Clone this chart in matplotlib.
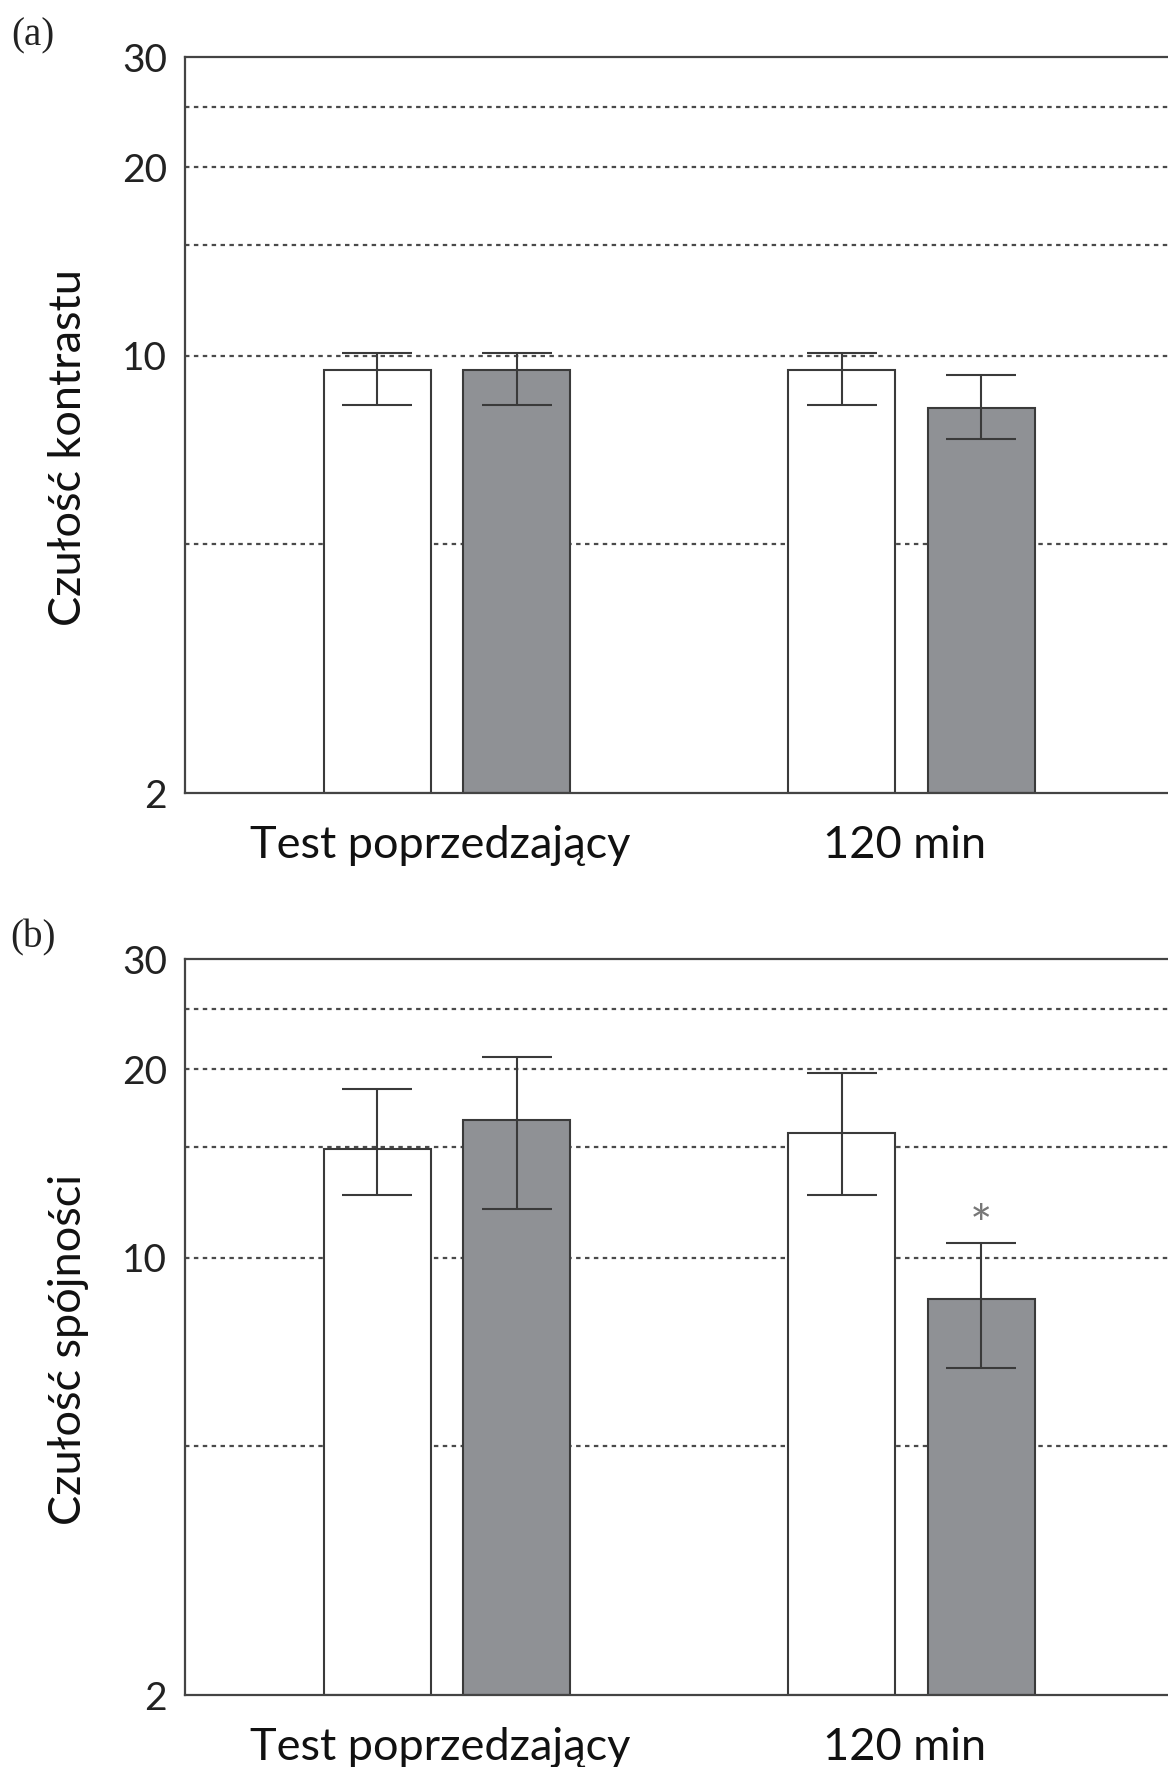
import matplotlib
matplotlib.use("Agg")
import matplotlib.pyplot as plt
import numpy as np

plt.rcParams['font.family'] = ['Lato', 'DejaVu Sans']

groups = ["Test poprzedzający", "120 min"]
ylabels = ["Czułość kontrastu", "Czułość spójności"]
panel_tags = ["(a)", "(b)"]

# panel (a): contrast sensitivity
a_white = [9.5, 9.5]
a_white_lo = [8.35, 8.35]
a_white_hi = [10.1, 10.1]
a_gray = [9.5, 8.25]
a_gray_lo = [8.35, 7.35]
a_gray_hi = [10.1, 9.3]

# panel (b): coherence sensitivity
b_white = [14.9, 15.8]
b_white_lo = [12.6, 12.6]
b_white_hi = [18.6, 19.7]
b_gray = [16.6, 8.6]
b_gray_lo = [11.95, 6.65]
b_gray_hi = [20.9, 10.55]

star_flags = [[False, False], [False, True]]

yticks = [2, 10, 20, 30]
grid_levels = [5, 10, 15, 20, 25]

W, H = 1168, 1767
fig = plt.figure(figsize=(W / 100, H / 100), dpi=100)

edge = '#3a3a3a'
gray_fill = '#8f9195'

panels = [
    (a_white, a_white_lo, a_white_hi, a_gray, a_gray_lo, a_gray_hi),
    (b_white, b_white_lo, b_white_hi, b_gray, b_gray_lo, b_gray_hi),
]
tops = [57, 959]
bottoms = [793, 1695]
left_px = 185
right_px = 1226

for i, (wv, wlo, whi, gv, glo, ghi) in enumerate(panels):
    ax = fig.add_axes([left_px / W, 1 - bottoms[i] / H, (right_px - left_px) / W,
                       (bottoms[i] - tops[i]) / H])
    x = np.arange(len(groups))
    off = 0.15
    bw = 0.23
    ax.set_yscale('log')
    ax.set_ylim(2, 30)
    ax.set_xlim(-0.564, -0.564 + (right_px - left_px) / 464.5)
    for g in grid_levels:
        ax.axhline(g, color='#4a4a4a', lw=1.6, ls=(0, (2.0, 2.0)), zorder=0)
    wv = np.array(wv); gv = np.array(gv)
    werr = np.array([wv - np.array(wlo), np.array(whi) - wv])
    gerr = np.array([gv - np.array(glo), np.array(ghi) - gv])
    ax.bar(x - off, wv - 2, bottom=2, width=bw, color='white', edgecolor=edge, lw=1.5, zorder=2)
    ax.bar(x + off, gv - 2, bottom=2, width=bw, color=gray_fill, edgecolor=edge, lw=1.5, zorder=2)
    ax.errorbar(x - off, wv, yerr=werr, fmt='none', ecolor=edge, elinewidth=1.5,
                capsize=25, capthick=1.5, zorder=3)
    ax.errorbar(x + off, gv, yerr=gerr, fmt='none', ecolor=edge, elinewidth=1.5,
                capsize=25, capthick=1.5, zorder=3)
    for j in range(len(groups)):
        if star_flags[i][j]:
            ax.text(x[j] + off, ghi[j], '*', ha='center', va='baseline',
                    fontsize=38, color='#777777')
    ax.set_yticks(yticks)
    ax.set_yticklabels([str(t) for t in yticks])
    ax.yaxis.set_minor_locator(matplotlib.ticker.NullLocator())
    ax.set_xticks(x - 0.015)
    ax.set_xticklabels(groups)
    ax.tick_params(axis='y', length=0, pad=13, labelsize=28, labelcolor='#222222')
    ax.tick_params(axis='x', length=0, pad=23, labelsize=32.5, labelcolor='#111111')
    ax.spines['right'].set_visible(False)
    for s in ['left', 'top', 'bottom']:
        ax.spines[s].set_color('#444444')
        ax.spines[s].set_linewidth(1.6)
    ax.set_ylabel(ylabels[i], fontsize=32.5, labelpad=0, color='#111111', va='center')
    ax.yaxis.set_label_coords(-(left_px - 69) / (right_px - left_px), 0.47)
    fig.text(33 / W, 1 - (tops[i] - 21) / H, panel_tags[i], fontsize=28,
             ha='center', va='center', color='#222222', family='Liberation Serif')

fig.savefig('out.png', dpi=100)
